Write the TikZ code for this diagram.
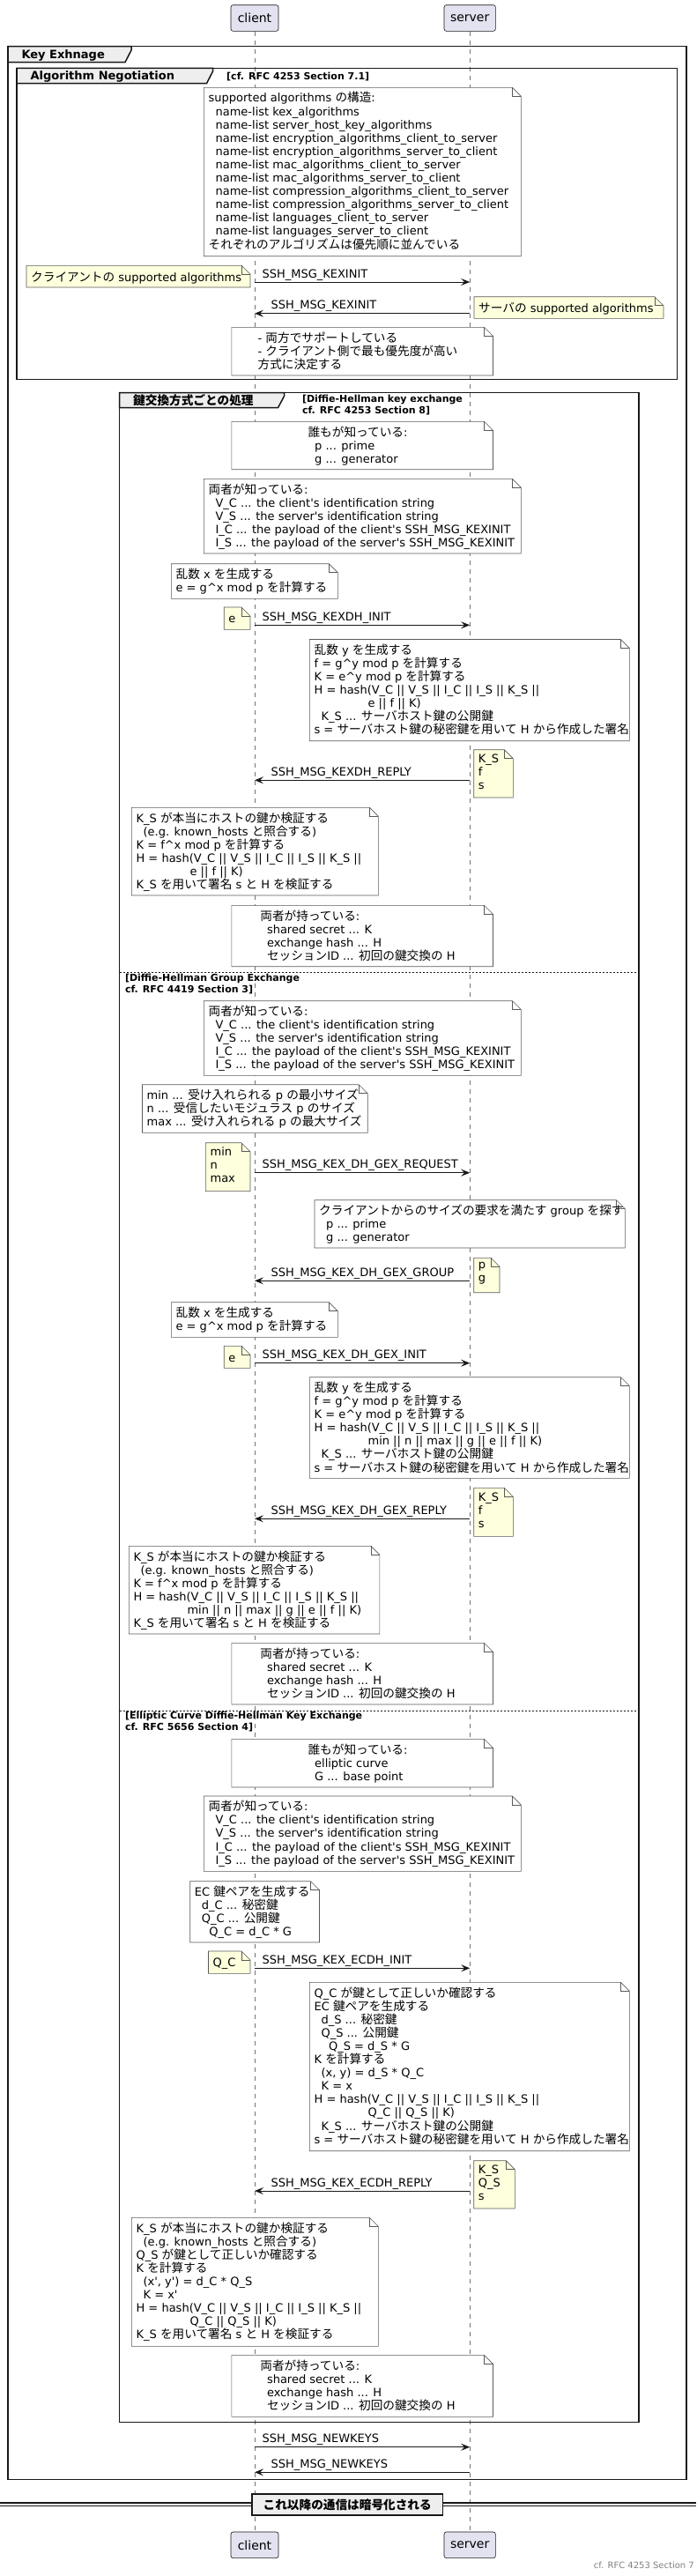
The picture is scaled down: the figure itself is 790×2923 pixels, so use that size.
\documentclass[tikz,border=0pt]{standalone}
\usepackage{fontspec}
\usepackage{tikz}
\usetikzlibrary{arrows.meta}
\usetikzlibrary{calc}
\definecolor{actorblue}{HTML}{E2E2F0}
\definecolor{memoyellow}{HTML}{FEFFDD}
\definecolor{tabgray}{HTML}{EEEEEE}
\definecolor{linegray}{HTML}{181818}
\newfontfamily\latinfam{DejaVu Sans}
\newfontfamily\jpfam{Noto Sans CJK JP}[Scale=1.05]
% Japanese from Noto, everything else from DejaVu
\XeTeXinterchartokenstate=1
\newXeTeXintercharclass\jpclass
\newcount\jpchar
\newcommand{\jprange}[2]{%
  \jpchar=#1
  \loop
    \XeTeXcharclass\jpchar=\jpclass
    \ifnum\jpchar<#2 \advance\jpchar by 1
  \repeat}
\jprange{"3000}{"30FF}
\jprange{"4E00}{"9FFF}
\jprange{"FF00}{"FFEF}
\XeTeXinterchartoks 0 \jpclass = {\jpfam}
\XeTeXinterchartoks 4095 \jpclass = {\jpfam}
\XeTeXinterchartoks \jpclass 0 = {\latinfam}
\XeTeXinterchartoks \jpclass 4095 = {\latinfam}
\newcommand{\pad}[1]{\hspace*{#1pt}}
\newcommand{\caret}{\textasciicircum}
\newcommand{\bothknow}{両者が知っている:\\
  \pad{8}V\_C ... the client's identification string\\
  \pad{8}V\_S ... the server's identification string\\
  \pad{8}I\_C ... the payload of the client's SSH\_MSG\_KEXINIT\\
  \pad{8}I\_S ... the payload of the server's SSH\_MSG\_KEXINIT}
\newcommand{\bothhave}{両者が持っている:\\
  \pad{7.6}shared secret ... K\\
  \pad{7.6}exchange hash ... H\\
  \pad{7.6}セッションID ... 初回の鍵交換の H}
% note: [text options]{name}{fill}{left}{top}{right}{bottom}{text}
\newcommand{\memo}[8][]{%
  \filldraw[memoline, fill=#3] (#4,#5) -- ({#6-10},#5) -- (#6,{#5+10}) -- (#6,#7) -- (#4,#7) -- cycle;
  \draw[memoline] ({#6-10},#5) -- ({#6-10},{#5+10}) -- (#6,{#5+10});
  \node[memotext, #1] (#2) at ({#4+5},{#5+5}) {#8};
}

\begin{document}
\begin{tikzpicture}[x=1pt, y=-1pt,
    actor/.style = {draw=linegray, fill=actorblue, rounded corners=2.5pt,
      line width=0.6pt, minimum width=54pt, minimum height=29.6pt, inner xsep=7pt,
      font=\latinfam\fontsize{14}{16}\selectfont},
    lifeline/.style = {draw=black!55, line width=0.8pt, dash pattern=on 5pt off 5pt},
    groupbox/.style = {draw=linegray, line width=1.5pt},
    grouptab/.style = {draw=linegray, fill=tabgray, line width=1.5pt},
    elseline/.style = {draw=linegray, line width=1pt, dash pattern=on 2pt off 2pt},
    grouplabel/.style = {anchor=base west, inner sep=0,
      font=\latinfam\bfseries\fontsize{13}{15.1}\selectfont},
    guard/.style = {anchor=north west, inner sep=0, align=left,
      execute at begin node={\rule{0pt}{10pt}},
      font=\latinfam\bfseries\fontsize{11}{13}\selectfont},
    memoline/.style = {draw=black!65, line width=0.6pt},
    memotext/.style = {anchor=north west, inner sep=0, align=left,
      execute at begin node={\rule{0pt}{12.5pt}},
      font=\latinfam\fontsize{13}{15.1}\selectfont},
    overboth/.style = {anchor=north, xshift=138.2pt},
    msg/.style = {draw=linegray, line width=1pt, -{Stealth[length=10pt, width=8pt, inset=4pt]}},
    sendlabel/.style = {pos=0, anchor=base west, inner sep=0, xshift=8pt, yshift=5pt,
      font=\latinfam\fontsize{13}{15.1}\selectfont},
    replylabel/.style = {pos=1, anchor=base west, inner sep=0, xshift=18pt, yshift=5pt,
      font=\latinfam\fontsize{13}{15.1}\selectfont},
    divider/.style = {draw=linegray, fill=tabgray, line width=1.5pt,
      minimum width=216.3pt, minimum height=23.7pt, inner sep=0,
      font=\latinfam\bfseries\fontsize{13}{15.1}\selectfont},
    footer/.style = {anchor=base east, inner sep=0, text=black!50,
      font=\latinfam\fontsize{10}{12}\selectfont}]

  \useasboundingbox (0,0) rectangle (790,2923);

  % Participants
  \node[actor] (client) at (289,20.5) {client};
  \node[actor] (server) at (533.2,20.5) {server};
  \node[actor] (client-b) at (289,2887.8) {client};
  \node[actor] (server-b) at (533.2,2887.8) {server};

  % Lifelines
  \draw[lifeline] (client) -- (client-b);
  \draw[lifeline] (server) -- (server-b);

  % Key Exhnage
  \draw[groupbox] (9,52.7) rectangle (779,2813.3);
  \filldraw[grouptab] (9,52.7) -- (149,52.7) -- (149,57) -- (142,70.7) -- (9,70.7) -- cycle;
  \node[grouplabel] (kexlabel) at (24.3,66) {Key Exhnage};

  % Algorithm Negotiation
  \draw[groupbox] (19.2,77.3) rectangle (768.6,430.7);
  \filldraw[grouptab] (19.2,77.3) -- (241.5,77.3) -- (241.5,81) -- (234.5,94.7) -- (19.2,94.7) -- cycle;
  \node[grouplabel] (algolabel) at (34.4,90.8) {Algorithm Negotiation};
  \node[guard] (algoguard) at (257,80.3) {[cf. RFC 4253 Section 7.1]};

  % per key exchange method
  \draw[groupbox] (135.7,445.7) rectangle (725,2748.3);
  \filldraw[grouptab] (135.7,445.7) -- (322.5,445.7) -- (322.5,449.5) -- (315.5,462.7) -- (135.7,462.7) -- cycle;
  \node[grouplabel] (altlabel) at (151,459.5) {鍵交換方式ごとの処理};
  \node[guard] (dhguard) at (342.8,447.8) {[Diffie-Hellman key exchange\\cf. RFC 4253 Section 8]};
  \draw[elseline] (135.7,1103.3) -- (725,1103.3);
  \node[guard] (gexguard) at (141.8,1104.7) {[Diffie-Hellman Group Exchange\\cf. RFC 4419 Section 3]};
  \draw[elseline] (135.7,1941.3) -- (725,1941.3);
  \node[guard] (ecguard) at (141.8,1942.3) {[Elliptic Curve Diffie-Hellman Key Exchange\\cf. RFC 5656 Section 4]};

  % Notes: algorithm negotiation
  \memo{algos}{white}{231.4}{99.3}{591.4}{290.7}{supported algorithms の構造:\\
    \pad{8}name-list kex\_algorithms\\
    \pad{8}name-list server\_host\_key\_algorithms\\
    \pad{8}name-list encryption\_algorithms\_client\_to\_server\\
    \pad{8}name-list encryption\_algorithms\_server\_to\_client\\
    \pad{8}name-list mac\_algorithms\_client\_to\_server\\
    \pad{8}name-list mac\_algorithms\_server\_to\_client\\
    \pad{8}name-list compression\_algorithms\_client\_to\_server\\
    \pad{8}name-list compression\_algorithms\_server\_to\_client\\
    \pad{8}name-list languages\_client\_to\_server\\
    \pad{8}name-list languages\_server\_to\_client\\
    それぞれのアルゴリズムは優先順に並んでいる}
  \memo{calgos}{memoyellow}{30}{301.3}{284}{326}{クライアントの supported algorithms}
  \memo{salgos}{memoyellow}{538}{336.7}{753}{361.3}{サーバの supported algorithms}
  \memo[overboth]{decide}{white}{262.8}{371.3}{559.5}{426}{- 両方でサポートしている\\
    - クライアント側で最も優先度が高い\\方式に決定する}

  % Notes: Diffie-Hellman
  \memo[overboth]{dhpub}{white}{262.8}{478.3}{559.5}{532.7}{誰もが知っている:\\
    \pad{7.6}p ... prime\\\pad{7.6}g ... generator}
  \memo{dhboth}{white}{231.4}{543.3}{591.4}{628}{\bothknow}
  \memo{dhx}{white}{194.4}{639.7}{383.3}{679.3}{乱数 x を生成する\\e = g\caret{}x mod p を計算する}
  \memo{dhe}{memoyellow}{254.2}{689}{284}{714.3}{e}
  \memo{dhsrv}{white}{351.4}{725.5}{714.4}{840.7}{乱数 y を生成する\\
    f = g\caret{}y mod p を計算する\\
    K = e\caret{}y mod p を計算する\\
    H = hash(V\_C || V\_S || I\_C || I\_S || K\_S ||\\
    \pad{61}e || f || K)\\
    \pad{8}K\_S ... サーバホスト鍵の公開鍵\\
    s = サーバホスト鍵の秘密鍵を用いて H から作成した署名}
  \memo{dhreply}{memoyellow}{537.7}{850.7}{582.3}{905}{K\_S\\f\\s}
  \memo{dhcheck}{white}{149.4}{916.3}{429.4}{1016}{K\_S が本当にホストの鍵か検証する\\
    \pad{8}(e.g. known\_hosts と照合する)\\
    K = f\caret{}x mod p を計算する\\
    H = hash(V\_C || V\_S || I\_C || I\_S || K\_S ||\\
    \pad{61}e || f || K)\\
    K\_S を用いて署名 s と H を検証する}
  \memo[overboth]{dhhave}{white}{262.8}{1027.3}{559.5}{1096.7}{\bothhave}

  % Notes: group exchange
  \memo{gexboth}{white}{231.4}{1135.7}{591.4}{1220.3}{\bothknow}
  \memo{gexsize}{white}{161.5}{1230.7}{417.2}{1285.3}{min ... 受け入れられる p の最小サイズ\\
    n ... 受信したいモジュラス p のサイズ\\
    max ... 受け入れられる p の最大サイズ}
  \memo{gexreq}{memoyellow}{233.4}{1296.7}{284}{1351.7}{min\\n\\max}
  \memo{gexfind}{white}{357}{1361.7}{709.4}{1416}{クライアントからのサイズの要求を満たす group を探す\\
    \pad{8}p ... prime\\\pad{8}g ... generator}
  \memo{gexgrp}{memoyellow}{537.7}{1427.3}{567}{1466.7}{p\\g}
  \memo{gexx}{white}{194.4}{1477.7}{383.3}{1517.3}{乱数 x を生成する\\e = g\caret{}x mod p を計算する}
  \memo{gexe}{memoyellow}{254.2}{1527.3}{284}{1552.3}{e}
  \memo{gexsrv}{white}{351.4}{1562.7}{714.4}{1677.3}{乱数 y を生成する\\
    f = g\caret{}y mod p を計算する\\
    K = e\caret{}y mod p を計算する\\
    H = hash(V\_C || V\_S || I\_C || I\_S || K\_S ||\\
    \pad{61}min || n || max || g || e || f || K)\\
    \pad{8}K\_S ... サーバホスト鍵の公開鍵\\
    s = サーバホスト鍵の秘密鍵を用いて H から作成した署名}
  \memo{gexreply}{memoyellow}{537.7}{1688.3}{582.3}{1743.3}{K\_S\\f\\s}
  \memo{gexcheck}{white}{146.3}{1754.3}{430.9}{1854}{K\_S が本当にホストの鍵か検証する\\
    \pad{8}(e.g. known\_hosts と照合する)\\
    K = f\caret{}x mod p を計算する\\
    H = hash(V\_C || V\_S || I\_C || I\_S || K\_S ||\\
    \pad{61}min || n || max || g || e || f || K)\\
    K\_S を用いて署名 s と H を検証する}
  \memo[overboth]{gexhave}{white}{262.8}{1864.3}{559.5}{1934}{\bothhave}

  % Notes: elliptic curve
  \memo[overboth]{ecpub}{white}{262.8}{1973.3}{559.5}{2028}{誰もが知っている:\\
    \pad{7.6}elliptic curve\\\pad{7.6}G ... base point}
  \memo{ecboth}{white}{231.4}{2038}{591.4}{2123.3}{\bothknow}
  \memo{eckey}{white}{215.7}{2134.7}{362.5}{2204}{EC 鍵ペアを生成する\\
    \pad{8}d\_C ... 秘密鍵\\\pad{8}Q\_C ... 公開鍵\\\pad{16.5}Q\_C = d\_C * G}
  \memo{ecqc}{memoyellow}{236.5}{2214}{284}{2239.3}{Q\_C}
  \memo{ecsrv}{white}{351.4}{2249.3}{714.4}{2440.7}{Q\_C が鍵として正しいか確認する\\
    EC 鍵ペアを生成する\\
    \pad{8}d\_S ... 秘密鍵\\
    \pad{8}Q\_S ... 公開鍵\\
    \pad{16.5}Q\_S = d\_S * G\\
    K を計算する\\
    \pad{8}(x, y) = d\_S * Q\_C\\
    \pad{8}K = x\\
    H = hash(V\_C || V\_S || I\_C || I\_S || K\_S ||\\
    \pad{61}Q\_C || Q\_S || K)\\
    \pad{8}K\_S ... サーバホスト鍵の公開鍵\\
    s = サーバホスト鍵の秘密鍵を用いて H から作成した署名}
  \memo{ecreply}{memoyellow}{537.7}{2451.7}{584.3}{2506}{K\_S\\Q\_S\\s}
  \memo{eccheck}{white}{149.4}{2516.3}{429.4}{2662.3}{K\_S が本当にホストの鍵か検証する\\
    \pad{8}(e.g. known\_hosts と照合する)\\
    Q\_S が鍵として正しいか確認する\\
    K を計算する\\
    \pad{8}(x', y') = d\_C * Q\_S\\
    \pad{8}K = x'\\
    H = hash(V\_C || V\_S || I\_C || I\_S || K\_S ||\\
    \pad{61}Q\_C || Q\_S || K)\\
    K\_S を用いて署名 s と H を検証する}
  \memo[overboth]{echave}{white}{262.8}{2672.3}{559.5}{2742.3}{\bothhave}

  % Message ends on the lifelines
  \foreach \m/\y in {kexc/320, kexs/355.7, dhi/709.3, dhr/885.3,
      gexq/1330.7, gexg/1453.3, gexi/1546.7, gexr/1723.3,
      eci/2233.3, ecr/2486, nkc/2776.7, nks/2805.3}{
    \coordinate (\m-c) at (client |- 0,\y);
    \coordinate (\m-s) at (server |- 0,\y);
  }

  % Messages
  \draw[msg] (kexc-c) -- node[sendlabel] {SSH\_MSG\_KEXINIT} (kexc-s);
  \draw[msg] (kexs-s) -- node[replylabel] {SSH\_MSG\_KEXINIT} (kexs-c);
  \draw[msg] (dhi-c) -- node[sendlabel] {SSH\_MSG\_KEXDH\_INIT} (dhi-s);
  \draw[msg] (dhr-s) -- node[replylabel] {SSH\_MSG\_KEXDH\_REPLY} (dhr-c);
  \draw[msg] (gexq-c) -- node[sendlabel] {SSH\_MSG\_KEX\_DH\_GEX\_REQUEST} (gexq-s);
  \draw[msg] (gexg-s) -- node[replylabel] {SSH\_MSG\_KEX\_DH\_GEX\_GROUP} (gexg-c);
  \draw[msg] (gexi-c) -- node[sendlabel] {SSH\_MSG\_KEX\_DH\_GEX\_INIT} (gexi-s);
  \draw[msg] (gexr-s) -- node[replylabel] {SSH\_MSG\_KEX\_DH\_GEX\_REPLY} (gexr-c);
  \draw[msg] (eci-c) -- node[sendlabel] {SSH\_MSG\_KEX\_ECDH\_INIT} (eci-s);
  \draw[msg] (ecr-s) -- node[replylabel] {SSH\_MSG\_KEX\_ECDH\_REPLY} (ecr-c);
  \draw[msg] (nkc-c) -- node[sendlabel] {SSH\_MSG\_NEWKEYS} (nkc-s);
  \draw[msg] (nks-s) -- node[replylabel] {SSH\_MSG\_NEWKEYS} (nks-c);

  % Divider
  \draw[line width=1.2pt, linegray] (0,2840) -- (790,2840);
  \draw[line width=1.2pt, linegray] (0,2843.7) -- (790,2843.7);
  \node[divider] (encrypted) at (394.2,2841.9) {これ以降の通信は暗号化される};

  % Footer
  \node[footer] (rfc) at (788,2914.3) {cf. RFC 4253 Section 7};
\end{tikzpicture}
\end{document}
